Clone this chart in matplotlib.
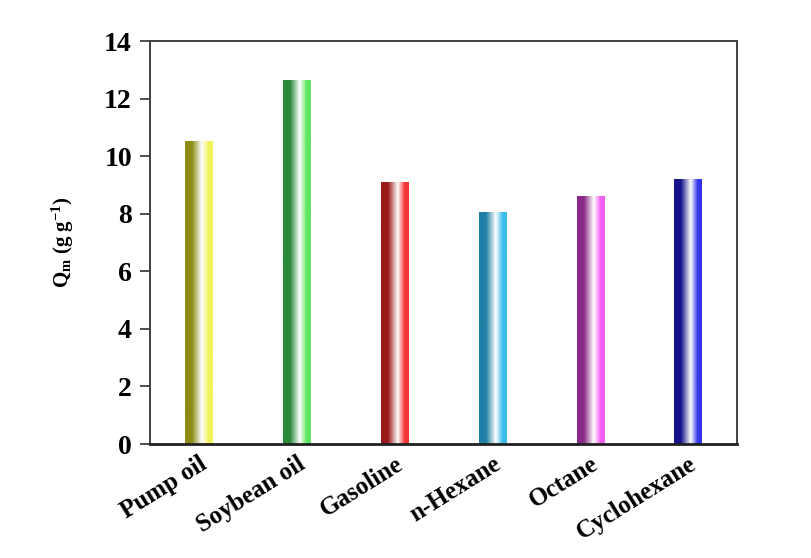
import numpy as np
import matplotlib.pyplot as plt
from matplotlib.colors import LinearSegmentedColormap

# Maximum adsorption capacity for each liquid
liquids = ['Pump oil', 'Soybean oil', 'Gasoline', 'n-Hexane', 'Octane', 'Cyclohexane']
qm = [10.5, 12.63, 9.09, 8.05, 8.59, 9.2]

# (dark left edge, bright right edge) for the cylinder look
bar_colors = [
    ('#8c8c14', '#f2f25a'),
    ('#2a8a3a', '#5ee65e'),
    ('#9a1a1a', '#f23434'),
    ('#1f7fa6', '#3cbce8'),
    ('#8a2a8a', '#f25ef2'),
    ('#14148a', '#3434ea'),
]

plt.rcParams['font.family'] = ['Liberation Serif', 'DejaVu Serif']
plt.rcParams['font.weight'] = 'bold'
plt.rcParams['mathtext.fontset'] = 'custom'
plt.rcParams['mathtext.rm'] = 'Liberation Serif:bold'
plt.rcParams['mathtext.it'] = 'Liberation Serif:bold'
plt.rcParams['mathtext.bf'] = 'Liberation Serif:bold'

fig = plt.figure(figsize=(8.12, 5.58), dpi=100)
ax = fig.add_axes([0.1847, 0.2043, 0.7229, 0.7222])

width = 0.28
grad = np.linspace(0, 1, 256).reshape(1, -1)
for i, (val, (dark, light)) in enumerate(zip(qm, bar_colors)):
    cmap = LinearSegmentedColormap.from_list(
        f'c{i}', [(0, dark), (0.25, dark), (0.6, '#ffffff'), (0.85, light), (1, light)])
    ax.imshow(grad, cmap=cmap, aspect='auto', extent=(i - width / 2, i + width / 2, 0, val),
              zorder=2, interpolation='bilinear')

ax.set_xlim(-0.5, len(liquids) - 0.5)
ax.set_ylim(0, 14)
ax.set_yticks(np.arange(0, 15, 2))
ax.set_xticks(range(len(liquids)))
ax.set_xticklabels(liquids, rotation=32, ha='right', rotation_mode='anchor', fontsize=18, fontweight='bold')
ax.tick_params(axis='x', length=0, pad=6)
ax.tick_params(axis='y', direction='out', length=7, width=1.3, color='#404040', labelsize=20, pad=6)
for lab in ax.get_yticklabels():
    lab.set_fontweight('bold')

for sp in ax.spines.values():
    sp.set_color('#404040')
    sp.set_linewidth(1.4)
ax.spines['bottom'].set_color('#202020')
ax.spines['bottom'].set_linewidth(2)

ax.set_ylabel(r'Q$_\mathrm{m}$ (g g$^{\mathrm{-1}}$)', fontsize=15, fontweight='bold', labelpad=20)

plt.savefig('out.png', dpi=100)
